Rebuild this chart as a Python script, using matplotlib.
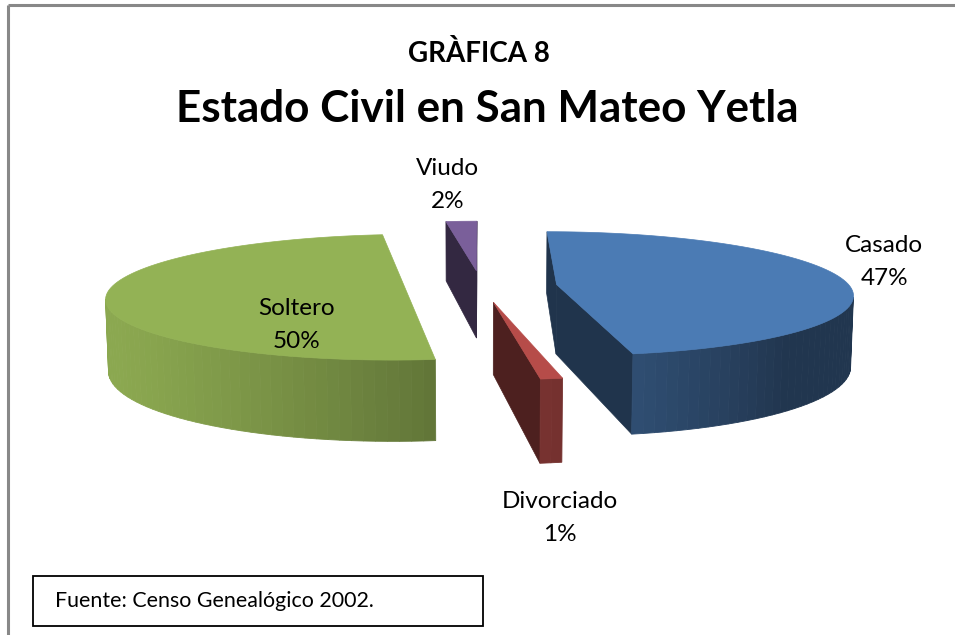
import numpy as np
import matplotlib.pyplot as plt
from matplotlib.colors import to_rgb
from matplotlib.patches import Polygon, Rectangle

categorias = ['Casado', 'Divorciado', 'Soltero', 'Viudo']
porcentajes = [47, 1, 50, 2]
colores = ['#4F81BD', '#C0504D', '#9BBB59', '#8064A2']

titulo1 = 'GRÀFICA 8'
titulo2 = 'Estado Civil en San Mateo Yetla'
fuente = 'Fuente: Censo Genealógico 2002.'

plt.rcParams['font.family'] = ['Lato', 'DejaVu Sans']

W, H = 955, 635
fig = plt.figure(figsize=(W / 100, H / 100), dpi=100)
ax = fig.add_axes([0, 0, 1, 1])
ax.set_xlim(0, W)
ax.set_ylim(H, 0)
ax.axis('off')

# camara en perspectiva para el pastel 3D
phi = np.radians(12)
D = 6.7
F = 293 * D
cx, cy = 481, 286
h = 0.245
e = 0.26
luz = np.radians(250)

cam = np.array([0, -D * np.cos(phi), D * np.sin(phi)])
fwd = -cam / np.linalg.norm(cam)
right = np.array([1.0, 0, 0])
up = np.cross(right, fwd)


def proj(p):
    q = np.atleast_2d(p) - cam
    d = q @ fwd
    return np.column_stack([cx + F * (q @ right) / d, cy - F * (q @ up) / d])


def dirv(t, z=0.0):
    return np.array([np.sin(t), np.cos(t), z])


def sombra(c, f):
    return np.clip(np.array(to_rgb(c)) * f, 0, 1)


def visible(n, p):
    return np.dot(n, cam - p) > 0


fr = np.array(porcentajes) / sum(porcentajes)
fin = np.cumsum(fr) * 2 * np.pi
ini = fin - fr * 2 * np.pi
mid = (ini + fin) / 2

rebanadas = []
for i in range(len(categorias)):
    c = e * dirv(mid[i])
    rebanadas.append((np.linalg.norm(c - cam), i, c))
rebanadas.sort(reverse=True)

zb = np.array([0, 0, -h])
for _, i, c in rebanadas:
    col = colores[i]
    t1, t2 = ini[i], fin[i]
    n = max(3, int(np.degrees(t2 - t1) / 2))
    ts = np.linspace(t1, t2, n)
    arc = np.array([c + dirv(t) for t in ts])
    # caras de corte
    for t, nrm in [(t1, np.array([-np.cos(t1), np.sin(t1), 0])),
                   (t2, np.array([np.cos(t2), -np.sin(t2), 0]))]:
        p = c + dirv(t)
        if visible(nrm, (c + p) / 2):
            quad = np.array([c, p, p + zb, c + zb])
            ax.add_patch(Polygon(proj(quad), closed=True, fc=sombra(col, 0.4),
                                 ec=sombra(col, 0.4), lw=0.5))
    # lado exterior
    for k in range(n - 1):
        tm = (ts[k] + ts[k + 1]) / 2
        if visible(dirv(tm), arc[k]):
            f = max(0.42, 0.55 + 0.35 * np.cos(tm - luz))
            quad = np.array([arc[k], arc[k + 1], arc[k + 1] + zb, arc[k] + zb])
            ax.add_patch(Polygon(proj(quad), closed=True, fc=sombra(col, f),
                                 ec=sombra(col, f), lw=0.6))
    # cara superior
    top = np.vstack([c, arc])
    ax.add_patch(Polygon(proj(top), closed=True, fc=sombra(col, 0.95),
                         ec=sombra(col, 0.95), lw=0.5))

# etiquetas: radio, altura, desplazamiento en px (linea base), alineacion
lab_cfg = {
    'Casado': (1.0, 0.0, 3, -27, 'left'),
    'Divorciado': (1.0, -h, 9, 45, 'center'),
    'Soltero': (0.37, 0.0, 1, 24, 'center'),
    'Viudo': (1.0, 0.0, -14, -46, 'center'),
}
for i, cat in enumerate(categorias):
    r, z, dx, dy, ha = lab_cfg[cat]
    c = e * dirv(mid[i])
    p = proj(c + r * dirv(mid[i]) + np.array([0, 0, z]))[0]
    x0 = p[0] + dx
    if ha == 'left':
        # segunda linea centrada bajo la primera
        t = ax.text(x0, p[1] + dy, cat, ha='left', va='baseline', fontsize=17.5)
        fig.canvas.draw()
        bb = t.get_window_extent()
        xc = bb.x0 + bb.width / 2
    else:
        ax.text(x0, p[1] + dy, cat, ha='center', va='baseline', fontsize=17.5)
        xc = x0
    ax.text(xc, p[1] + dy + 33, f'{porcentajes[i]}%', ha='center', va='baseline',
            fontsize=17.5)

ax.text(479, 62, titulo1, ha='center', va='baseline', fontsize=20, fontweight='bold')
ax.text(487, 122, titulo2, ha='center', va='baseline', fontsize=31.7, fontweight='bold')

ax.add_patch(Rectangle((33, 576), 450, 50, fill=False, ec='black', lw=1.3))
ax.text(55, 601, fuente, ha='left', va='center', fontsize=15.4)

ax.plot([8, W], [5, 5], color='#888888', lw=2.2, solid_capstyle='butt')
ax.plot([8, 8], [5, H], color='#888888', lw=2.2, solid_capstyle='butt')

fig.savefig('out.png', dpi=100)
